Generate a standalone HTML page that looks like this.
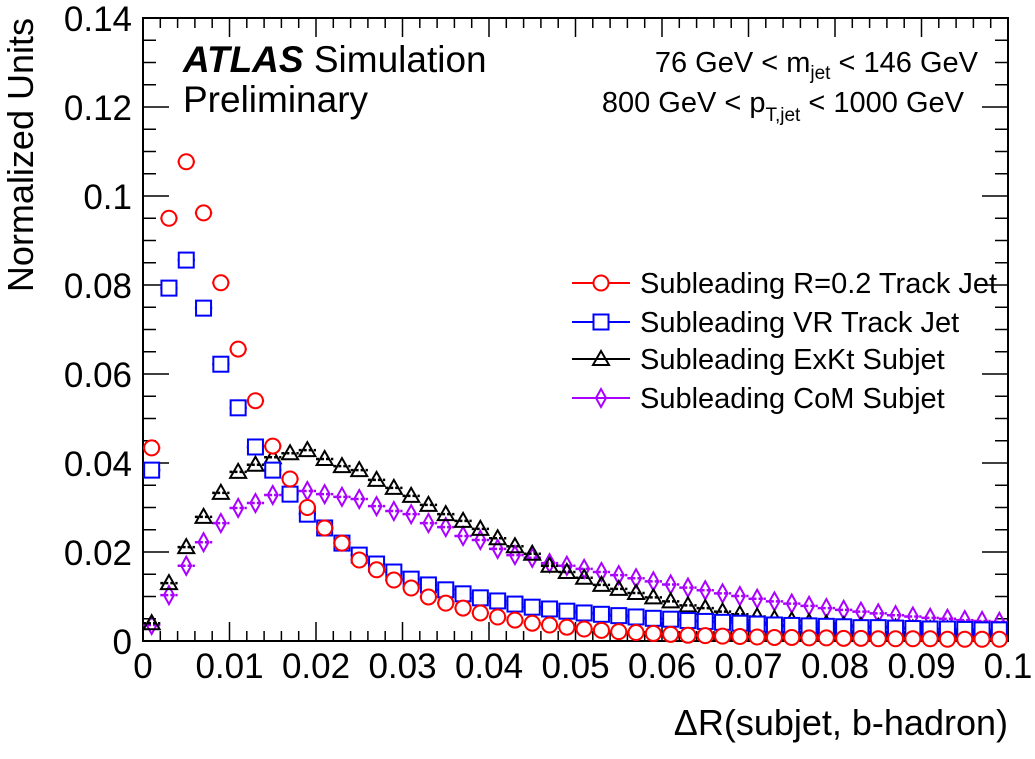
<!DOCTYPE html>
<html><head><meta charset="utf-8"><style>
html,body{margin:0;padding:0;background:#fff}
svg text{font-family:"Liberation Sans",Arial,sans-serif}
</style></head><body>
<svg id="c" width="1035" height="754" xmlns="http://www.w3.org/2000/svg"></svg>
<script>
const binWidth=0.002;
const redVals=[0.0434,0.095,0.1077,0.0962,0.0805,0.0656,0.054,0.0438,0.0364,0.030,0.0254,0.022,0.0182,0.016,0.0137,0.0119,0.0099,0.0085,0.0074,0.0063,0.0054,0.0047,0.004,0.0036,0.0031,0.0027,0.0024,0.0021,0.0019,0.0017,0.0015,0.0013,0.0012,0.0011,0.0010,0.0009,0.0008,0.0008,0.0007,0.0007,0.0006,0.0006,0.0005,0.0005,0.0005,0.0005,0.0004,0.0004,0.0004,0.0004];
const blueVals=[0.0384,0.0793,0.0856,0.0748,0.0622,0.0524,0.0436,0.0384,0.033,0.0285,0.0254,0.022,0.0193,0.0173,0.0155,0.0139,0.0126,0.0115,0.0106,0.0097,0.009,0.0083,0.0076,0.0072,0.0067,0.0063,0.006,0.0057,0.0054,0.0051,0.0049,0.0046,0.0044,0.0042,0.004,0.0038,0.0036,0.0035,0.0034,0.0033,0.0032,0.003,0.003,0.0029,0.0028,0.0027,0.0027,0.0026,0.0025,0.0025];
const blackVals=[0.004,0.013,0.0211,0.0279,0.0333,0.038,0.0396,0.0413,0.0422,0.0429,0.0409,0.0393,0.0384,0.0362,0.0344,0.0326,0.0306,0.0285,0.027,0.0252,0.0231,0.0213,0.0196,0.0169,0.0155,0.0142,0.0126,0.0117,0.0108,0.0098,0.0089,0.008,0.0074,0.0066,0.006,0.0055,0.005,0.0046,0.0042,0.0039,0.0036,0.0034,0.0032,0.003,0.0028,0.0027,0.0026,0.0025,0.0024,0.0023];
const purpleVals=[0.0036,0.0103,0.0169,0.0222,0.0265,0.0299,0.031,0.0328,0.0335,0.0337,0.033,0.0324,0.0319,0.0303,0.0292,0.0285,0.0265,0.0256,0.0236,0.0227,0.0207,0.0193,0.0187,0.0175,0.0169,0.0162,0.0155,0.0148,0.0141,0.0134,0.0127,0.012,0.0114,0.0107,0.0101,0.0095,0.0089,0.0084,0.0079,0.0074,0.007,0.0066,0.0062,0.0058,0.0055,0.0052,0.005,0.0047,0.0045,0.0043];
const xTickLabels=["0","0.01","0.02","0.03","0.04","0.05","0.06","0.07","0.08","0.09","0.1"];
const yTickLabels=["0","0.02","0.04","0.06","0.08","0.1","0.12","0.14"];

const svg=document.getElementById('c');
const NS="http://www.w3.org/2000/svg";
const X0=143,X1=1008,Y0=641,Y1=18;
const sx=v=>X0+(v/0.1)*(X1-X0);
const sy=v=>Y0-(v/0.14)*(Y0-Y1);
function mk(tag,attrs,parent){const e=document.createElementNS(NS,tag);for(const k in attrs)e.setAttribute(k,attrs[k]);(parent||svg).appendChild(e);return e;}

const frame=mk('rect',{x:X0,y:Y1,width:X1-X0,height:Y0-Y1,fill:'none',stroke:'#000','stroke-width':2});



const ticks=mk('g',{stroke:'#000','stroke-width':1.5});


for(let i=0;i<=50;i++){const v=i*0.002;const L=(i%5===0)?19:10;const x=sx(v);
 mk('line',{x1:x,y1:Y0,x2:x,y2:Y0-L},ticks);mk('line',{x1:x,y1:Y1,x2:x,y2:Y1+L},ticks);}
for(let i=0;i<=28;i++){const v=i*0.005;const L=(i%4===0)?26:13;const y=sy(v);
 mk('line',{x1:X0,y1:y,x2:X0+L,y2:y},ticks);mk('line',{x1:X1,y1:y,x2:X1-L,y2:y},ticks);}

xTickLabels.forEach((t,i)=>{const e=mk('text',{x:sx(i*0.01),y:678,'text-anchor':'middle','font-size':35});e.textContent=t;
 
 });
yTickLabels.forEach((t,i)=>{const e=mk('text',{x:132,y:sy(i*0.02)+13,'text-anchor':'end','font-size':35});e.textContent=t;
 
 });

const xt=mk('text',{x:1008,y:735,'text-anchor':'end','font-size':36});xt.textContent='ΔR(subjet, b-hadron)';


const yt=mk('text',{x:0,y:0,'text-anchor':'end','font-size':36,transform:'translate(33,18) rotate(-90)'});yt.textContent='Normalized Units';



function marker(g,type,x,y,color){
 if(type==='circle')mk('circle',{cx:x,cy:y,r:7.5,fill:'#fff',stroke:color,'stroke-width':2},g);
 else if(type==='square')mk('rect',{x:x-7.5,y:y-7.5,width:15,height:15,fill:'#fff',stroke:color,'stroke-width':2},g);
 else if(type==='tri')mk('polygon',{points:`${x},${y-8} ${x-8},${y+6} ${x+8},${y+6}`,fill:'none',stroke:color,'stroke-width':2},g);
 else mk('polygon',{points:`${x},${y-9} ${x-5},${y} ${x},${y+9} ${x+5},${y}`,fill:'none',stroke:color,'stroke-width':2},g);
}
const series=[[purpleVals,'diamond','#a0f','purple-series'],[blackVals,'tri','#000','black-series'],[blueVals,'square','#00f','blue-series'],[redVals,'circle','#f00','red-series']];
series.forEach(([vals,type,color,name])=>{
 const g=mk('g',{});
 
 
 vals.forEach((v,i)=>{const xl=sx(i*binWidth),xr=sx((i+1)*binWidth),xc=sx((i+0.5)*binWidth),y=sy(v);
  mk('line',{x1:xl,y1:y,x2:xr,y2:y,stroke:color,'stroke-width':2.5,'stroke-dasharray':'3,2'},g);
  marker(g,type,xc,y,color);});
});

const labels=['Subleading R=0.2 Track Jet','Subleading VR Track Jet','Subleading ExKt Subjet','Subleading CoM Subjet'];
const lcol=['#f00','#00f','#000','#a0f'];const ltype=['circle','square','tri','diamond'];
const ly=[283,322,359,398];
labels.forEach((lab,i)=>{
 const g=mk('g',{});
 
 
 mk('line',{x1:572,y1:ly[i],x2:630,y2:ly[i],stroke:lcol[i],'stroke-width':2},g);
 marker(g,ltype[i],601,ly[i],lcol[i]);
 const t=mk('text',{x:640,y:ly[i]+10,'font-size':29},g);t.textContent=lab;
});

const a1=mk('text',{x:183,y:72,'font-size':37});


a1.innerHTML='<tspan font-weight="bold" font-style="italic">ATLAS</tspan> Simulation';
const a2=mk('text',{x:183,y:112,'font-size':37});a2.textContent='Preliminary';


const a3=mk('text',{x:978,y:72,'font-size':29,'text-anchor':'end'});


a3.innerHTML='76 GeV &lt; m<tspan font-size="19" dy="7">jet</tspan><tspan dy="-7"> &lt; 146 GeV</tspan>';
const a4=mk('text',{x:964,y:112,'font-size':29,'text-anchor':'end'});


a4.innerHTML='800 GeV &lt; p<tspan font-size="19" dy="9">T,jet</tspan><tspan dy="-9"> &lt; 1000 GeV</tspan>';
</script>
</body></html>
